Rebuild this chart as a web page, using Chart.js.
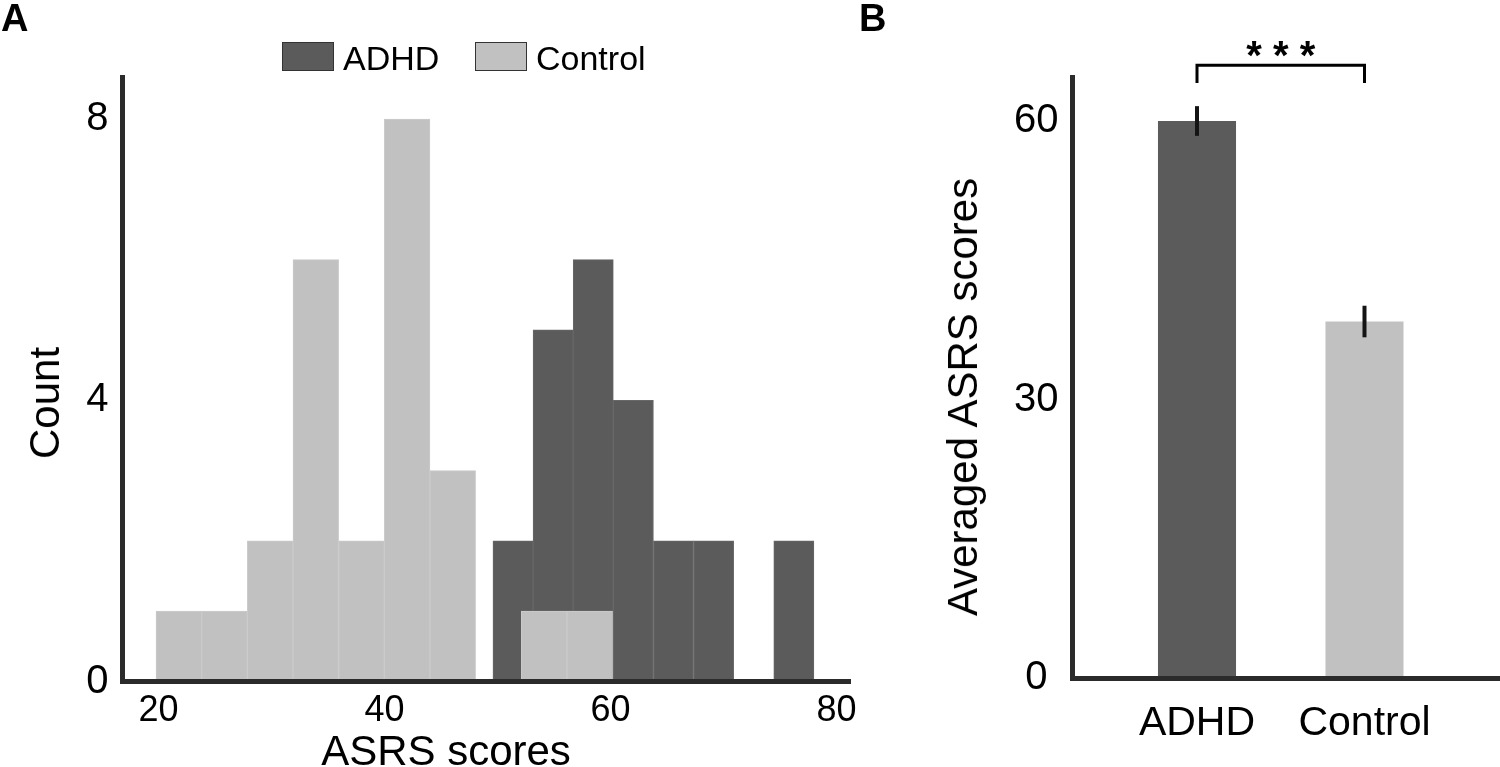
<!DOCTYPE html>
<html>
<head>
<meta charset="utf-8">
<title>ASRS scores</title>
<script src="https://cdn.jsdelivr.net/npm/chart.js@4.4.0/dist/chart.umd.min.js"></script>
<style>
  html, body { margin: 0; padding: 0; background: #fff; overflow: hidden; }
  body { width: 1500px; height: 767px; position: relative; font-family: "Liberation Sans", Arial, sans-serif; color: #000; }
  .panel { position: absolute; top: 0; height: 767px; }
  .txt { position: absolute; white-space: nowrap; }
  .letter { font-weight: bold; font-size: 38px; line-height: 38px; }
  .title { font-size: 42px; line-height: 42px; }
  .legbox { position: absolute; top: 42px; width: 52px; height: 29px; box-sizing: border-box; border: 1.5px solid #333; }
  .legtxt { font-size: 34px; line-height: 34px; top: 41px; }
</style>
</head>
<body>
<div class="panel" style="left:0;width:880px"><canvas id="histChart"></canvas></div>
<div class="panel" style="left:880px;width:620px"><canvas id="meanChart"></canvas></div>

<div class="txt letter" style="left:1px;top:-1px">A</div>
<div class="txt letter" style="left:859px;top:-1px">B</div>

<div class="legbox" id="legAdhd" style="left:282px"></div>
<div class="txt legtxt" style="left:343px">ADHD</div>
<div class="legbox" id="legControl" style="left:475px"></div>
<div class="txt legtxt" style="left:536px">Control</div>

<div class="txt title" style="left:45px;top:403px;transform:translate(-50%,-50%) rotate(-90deg)">Count</div>
<div class="txt title" style="left:446px;top:730px;transform:translateX(-50%)">ASRS scores</div>
<div class="txt title" style="left:963px;top:397px;transform:translate(-50%,-50%) rotate(-90deg)">Averaged ASRS scores</div>

<script>
// panel A: histogram of ASRS scores (bin centres)
const adhdBinCenters = [51.37, 54.92, 58.47, 62.02, 65.57, 69.12, 72.67, 76.22];
const adhdCounts = [2, 5, 6, 4, 2, 2, 0, 2];
const controlBinCenters = [21.80, 25.84, 29.88, 33.92, 37.96, 42.00, 46.04, 50.08, 54.12, 58.16];
const controlCounts = [1, 1, 2, 6, 2, 8, 3, 0, 1, 1];
const histXTicks = [20, 40, 60, 80];
const histYTicks = [0, 4, 8];

// panel B: group means with error bars
const groups = ['ADHD', 'Control'];
const groupMeans = [60.0, 38.4];
const groupErrors = [1.6, 1.7];
const meanYTicks = [0, 30, 60];
const bracketLevels = [66.0, 64.1];
const starLevel = 68.1;
const starText = '* * *';

const DARK = '#5b5b5b';
const LIGHT = '#c1c1c1';
const AXIS = '#2b2b2b';
const FONT = '"Liberation Sans", Arial, sans-serif';

Chart.defaults.font.family = FONT;
Chart.defaults.color = '#000';

document.getElementById('legAdhd').style.background = DARK;
document.getElementById('legControl').style.background = LIGHT;

const toPoints = (xs, ys) => xs.map((x, i) => ({ x: x, y: ys[i] }));
const fixTicks = list => axis => { axis.ticks = list.map(v => ({ value: v })); };
const axisBorder = { display: true, color: AXIS, width: 5, z: 1 };
const noGrid = { display: false, drawTicks: false, offset: false };

const histX = { min: 16.77, max: 81.19 };

new Chart(document.getElementById('histChart'), {
  type: 'bar',
  data: {
    datasets: [
      {
        label: 'ADHD',
        data: toPoints(adhdBinCenters, adhdCounts),
        xAxisID: 'x2',
        order: 1,
        backgroundColor: DARK,
        borderColor: '#686868',
        borderWidth: 1,
        barPercentage: 1,
        categoryPercentage: 1,
        grouped: false
      },
      {
        label: 'Control',
        data: toPoints(controlBinCenters, controlCounts),
        xAxisID: 'x',
        order: 0,
        backgroundColor: LIGHT,
        borderColor: '#cbcbcb',
        borderWidth: 1,
        barPercentage: 1,
        categoryPercentage: 1,
        grouped: false
      }
    ]
  },
  options: {
    responsive: true,
    maintainAspectRatio: false,
    animation: false,
    layout: { padding: { top: 77, right: 30, left: 0, bottom: 0 } },
    plugins: { legend: { display: false }, tooltip: { enabled: false } },
    scales: {
      x: {
        type: 'linear', min: histX.min, max: histX.max, offset: false,
        afterBuildTicks: fixTicks(histXTicks),
        afterFit: s => { s.height = 85.5; },
        ticks: { font: { size: 36 }, padding: 8, color: '#000' },
        grid: noGrid,
        border: axisBorder
      },
      x2: {
        type: 'linear', display: false, min: histX.min, max: histX.max, offset: false,
        afterBuildTicks: fixTicks(histXTicks)
      },
      y: {
        min: 0, max: 8.597,
        afterBuildTicks: fixTicks(histYTicks),
        afterFit: s => { s.width = 122; },
        ticks: { font: { size: 40 }, padding: 13.5, crossAlign: 'center', color: '#000' },
        grid: noGrid,
        border: axisBorder
      }
    }
  }
});

const sigMarks = {
  id: 'sigMarks',
  afterDatasetsDraw(chart) {
    const { ctx, scales: { x, y } } = chart;
    ctx.save();
    ctx.strokeStyle = '#141414';
    ctx.lineWidth = 4;
    groups.forEach((g, i) => {
      const px = x.getPixelForValue(i + 1);
      ctx.beginPath();
      ctx.moveTo(px, y.getPixelForValue(groupMeans[i] - groupErrors[i]));
      ctx.lineTo(px, y.getPixelForValue(groupMeans[i] + groupErrors[i]));
      ctx.stroke();
    });

    const x1 = x.getPixelForValue(1);
    const x2 = x.getPixelForValue(2);
    const top = y.getPixelForValue(bracketLevels[0]);
    const foot = y.getPixelForValue(bracketLevels[1]);
    ctx.lineWidth = 3;
    ctx.strokeStyle = '#000';
    ctx.beginPath();
    ctx.moveTo(x1, foot);
    ctx.lineTo(x1, top);
    ctx.lineTo(x2, top);
    ctx.lineTo(x2, foot);
    ctx.stroke();

    ctx.fillStyle = '#000';
    ctx.font = 'bold 40px ' + FONT;
    ctx.textAlign = 'center';
    ctx.textBaseline = 'alphabetic';
    ctx.fillText(starText, (x1 + x2) / 2, y.getPixelForValue(starLevel) + 0.58 * 40);
    ctx.restore();
  }
};

new Chart(document.getElementById('meanChart'), {
  type: 'bar',
  data: {
    datasets: [{
      label: 'Averaged ASRS scores',
      data: toPoints(groups.map((g, i) => i + 1), groupMeans),
      backgroundColor: [DARK, LIGHT],
      borderWidth: 0,
      barPercentage: 0.466,
      categoryPercentage: 1
    }]
  },
  options: {
    responsive: true,
    maintainAspectRatio: false,
    animation: false,
    layout: { padding: { top: 77, right: 0, left: 0, bottom: 0 } },
    plugins: { legend: { display: false }, tooltip: { enabled: false } },
    scales: {
      x: {
        type: 'linear', min: 0.2537, max: 2.809, offset: false,
        afterBuildTicks: fixTicks(groups.map((g, i) => i + 1)),
        afterFit: s => { s.height = 89; },
        ticks: { callback: v => groups[v - 1], font: { size: 41 }, padding: 20.8, color: '#000' },
        grid: noGrid,
        border: axisBorder
      },
      y: {
        min: 0, max: 64.74,
        afterBuildTicks: fixTicks(meanYTicks),
        afterFit: s => { s.width = 192; },
        ticks: { font: { size: 40 }, padding: 13.5, crossAlign: 'center', color: '#000' },
        grid: noGrid,
        border: axisBorder
      }
    }
  },
  plugins: [sigMarks]
});
</script>
</body>
</html>
